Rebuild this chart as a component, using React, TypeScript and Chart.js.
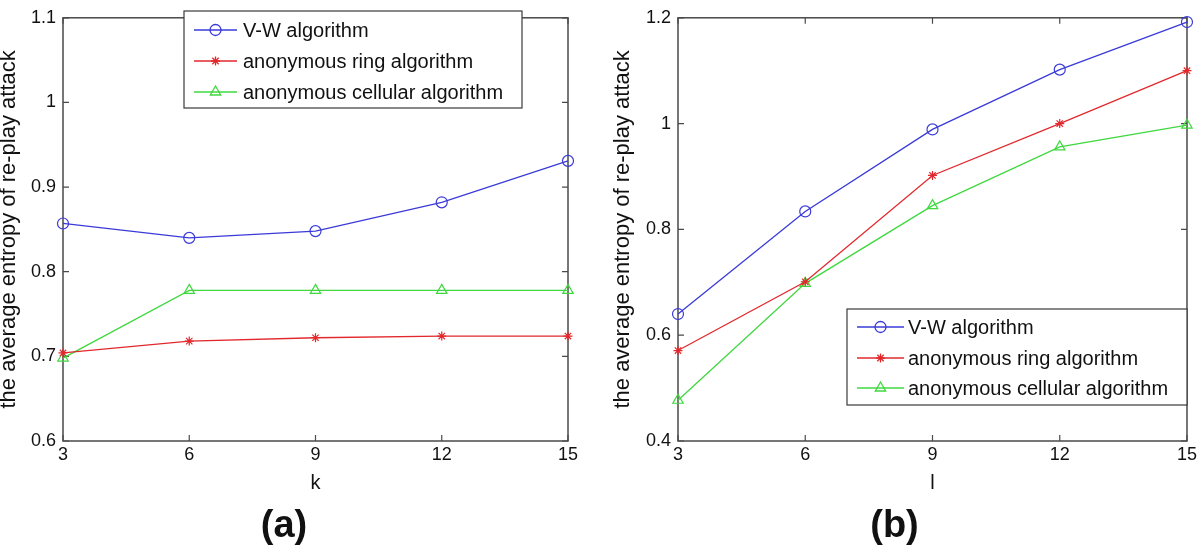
import React, { useEffect, useRef } from 'react';
import { Chart, registerables } from 'chart.js';

Chart.register(...registerables);

// ---------- data ----------
const X_VALUES = [3, 6, 9, 12, 15];
const SERIES_NAMES = ['V-W algorithm', 'anonymous ring algorithm', 'anonymous cellular algorithm'];

const A_VW = [0.857, 0.840, 0.848, 0.882, 0.931];
const A_RING = [0.704, 0.718, 0.722, 0.724, 0.724];
const A_CELL = [0.698, 0.778, 0.778, 0.778, 0.778];

const B_VW = [0.640, 0.834, 0.989, 1.102, 1.192];
const B_RING = [0.571, 0.701, 0.902, 1.000, 1.100];
const B_CELL = [0.477, 0.698, 0.845, 0.956, 0.997];

const A_Y_TICKS = [0.6, 0.7, 0.8, 0.9, 1.0, 1.1];
const B_Y_TICKS = [0.4, 0.6, 0.8, 1.0, 1.2];
const X_TICKS = [3, 6, 9, 12, 15];

const Y_TITLE = 'the average entropy of re-play attack';
const A_X_TITLE = 'k';
const B_X_TITLE = 'l';
const A_CAPTION = '(a)';
const B_CAPTION = '(b)';

// ---------- styles ----------
const BLUE = '#3a3ad8';
const RED = '#e2282c';
const GREEN = '#3fd83f';
const FONT = '"Liberation Sans", Arial, sans-serif';

function drawMarker(ctx: CanvasRenderingContext2D, style: string, x: number, y: number, r: number) {
  ctx.beginPath();
  if (style === 'circle') {
    ctx.arc(x, y, r, 0, Math.PI * 2);
  } else if (style === 'triangle') {
    let a = 0;
    ctx.moveTo(x + Math.sin(a) * r, y - Math.cos(a) * r);
    a += (2 * Math.PI) / 3;
    ctx.lineTo(x + Math.sin(a) * r, y - Math.cos(a) * r);
    a += (2 * Math.PI) / 3;
    ctx.lineTo(x + Math.sin(a) * r, y - Math.cos(a) * r);
    ctx.closePath();
  } else {
    ctx.moveTo(x, y - r); ctx.lineTo(x, y + r);
    ctx.moveTo(x - r, y); ctx.lineTo(x + r, y);
    const d = r * Math.SQRT1_2;
    ctx.moveTo(x - d, y - d); ctx.lineTo(x + d, y + d);
    ctx.moveTo(x - d, y + d); ctx.lineTo(x + d, y - d);
  }
  ctx.stroke();
}

const framePlugin = {
  id: 'matlabFrame',
  beforeDatasetsDraw(chart: any) {
    const { ctx, chartArea: a, scales } = chart;
    ctx.save();
    ctx.strokeStyle = '#4a4a4a';
    ctx.lineWidth = 1.5;
    ctx.strokeRect(a.left, a.top, a.right - a.left, a.bottom - a.top);
    ctx.lineWidth = 1.2;
    const L = 6;
    ctx.beginPath();
    scales.x.ticks.forEach((t: any) => {
      const px = scales.x.getPixelForValue(t.value);
      ctx.moveTo(px, a.bottom); ctx.lineTo(px, a.bottom - L);
      ctx.moveTo(px, a.top); ctx.lineTo(px, a.top + L);
    });
    scales.y.ticks.forEach((t: any) => {
      const py = scales.y.getPixelForValue(t.value);
      ctx.moveTo(a.left, py); ctx.lineTo(a.left + L, py);
      ctx.moveTo(a.right, py); ctx.lineTo(a.right - L, py);
    });
    ctx.stroke();
    ctx.restore();
  },
};

const boxLegendPlugin = {
  id: 'boxLegend',
  afterDatasetsDraw(chart: any, _args: any, opts: any) {
    if (!opts || !opts.width) return;
    const { ctx } = chart;
    ctx.save();
    ctx.fillStyle = '#ffffff';
    ctx.fillRect(opts.left, opts.top, opts.width, opts.height);
    ctx.strokeStyle = '#3a3a3a';
    ctx.lineWidth = 1.2;
    ctx.strokeRect(opts.left, opts.top, opts.width, opts.height);
    chart.data.datasets.forEach((ds: any, i: number) => {
      const y = opts.rows[i];
      ctx.strokeStyle = ds.borderColor;
      ctx.lineWidth = 1.3;
      ctx.beginPath();
      ctx.moveTo(opts.lineX0, y);
      ctx.lineTo(opts.lineX1, y);
      ctx.stroke();
      drawMarker(ctx, ds.pointStyle, (opts.lineX0 + opts.lineX1) / 2, y, ds.pointRadius);
      ctx.fillStyle = '#111111';
      ctx.font = `20px ${FONT}`;
      ctx.textAlign = 'left';
      ctx.textBaseline = 'middle';
      ctx.fillText(ds.label, opts.textX, y + 1);
    });
    ctx.restore();
  },
};

function makeDatasets(vw: number[], ring: number[], cell: number[]) {
  const base = { borderWidth: 1.3, clip: false as any, pointBackgroundColor: 'rgba(0,0,0,0)', pointBorderWidth: 1.2, tension: 0 };
  return [
    { ...base, label: SERIES_NAMES[0], data: X_VALUES.map((x, i) => ({ x, y: vw[i] })), borderColor: BLUE, pointBorderColor: BLUE, pointStyle: 'circle', pointRadius: 5.5 },
    { ...base, label: SERIES_NAMES[1], data: X_VALUES.map((x, i) => ({ x, y: ring[i] })), borderColor: RED, pointBorderColor: RED, pointStyle: 'star', pointRadius: 4.5 },
    { ...base, label: SERIES_NAMES[2], data: X_VALUES.map((x, i) => ({ x, y: cell[i] })), borderColor: GREEN, pointBorderColor: GREEN, pointStyle: 'triangle', pointRadius: 6 },
  ];
}

function makeConfig(p: any): any {
  return {
    type: 'line',
    data: { datasets: makeDatasets(p.vw, p.ring, p.cell) },
    plugins: [framePlugin, boxLegendPlugin],
    options: {
      responsive: false,
      animation: false,
      devicePixelRatio: 1,
      layout: { padding: { left: 0, right: p.padRight, top: 11, bottom: 2 } },
      plugins: {
        legend: { display: false },
        tooltip: { enabled: false },
        title: {
          display: true,
          text: p.caption,
          position: 'bottom',
          color: '#111111',
          font: { family: FONT, size: 38, weight: 'bold', lineHeight: 1 },
          padding: 0,
        },
        boxLegend: p.legend,
      },
      scales: {
        x: {
          type: 'linear',
          min: X_TICKS[0],
          max: X_TICKS[X_TICKS.length - 1],
          afterBuildTicks: (s: any) => { s.ticks = X_TICKS.map((v) => ({ value: v })); },
          afterFit: (s: any) => { s.height = 67; },
          grid: { display: false, drawTicks: false },
          border: { display: false },
          ticks: { color: '#111111', font: { family: FONT, size: 18 }, padding: 3, maxRotation: 0, autoSkip: false, callback: (v: any) => String(v) },
          title: { display: true, text: p.xTitle, color: '#111111', font: { family: FONT, size: 20, lineHeight: 1 }, padding: { top: 0, bottom: 15 } },
        },
        y: {
          type: 'linear',
          min: p.yTicks[0],
          max: p.yTicks[p.yTicks.length - 1],
          afterBuildTicks: (s: any) => { s.ticks = p.yTicks.map((v: number) => ({ value: v })); },
          afterFit: (s: any) => { s.width = p.yWidth; },
          grid: { display: false, drawTicks: false },
          border: { display: false },
          ticks: { color: '#111111', font: { family: FONT, size: 18 }, padding: 7, autoSkip: false, callback: (v: any) => String(Number(Number(v).toFixed(2))) },
          title: { display: true, text: Y_TITLE, color: '#111111', font: { family: FONT, size: 22, lineHeight: 0.85 }, padding: { top: p.yTitlePad, bottom: 0 } },
        },
      },
    },
  };
}

function Panel(props: { left: number; cfg: any }) {
  const ref = useRef<HTMLCanvasElement | null>(null);
  useEffect(() => {
    if (!ref.current) return;
    const chart = new Chart(ref.current, makeConfig(props.cfg));
    return () => chart.destroy();
  }, []);
  return (
    <canvas
      ref={ref}
      width={600}
      height={548}
      style={{ position: 'absolute', left: props.left, top: 0, width: 600, height: 548 }}
    />
  );
}

const PANEL_A = {
  vw: A_VW, ring: A_RING, cell: A_CELL, yTicks: A_Y_TICKS, xTitle: A_X_TITLE, caption: A_CAPTION,
  padRight: 32, yWidth: 63, yTitlePad: 0,
  legend: { left: 184, top: 11, width: 338, height: 97, rows: [30, 61, 92], lineX0: 194, lineX1: 237, textX: 243 },
};

const PANEL_B = {
  vw: B_VW, ring: B_RING, cell: B_CELL, yTicks: B_Y_TICKS, xTitle: B_X_TITLE, caption: B_CAPTION,
  padRight: 11, yWidth: 78, yTitlePad: 14,
  legend: { left: 247, top: 309, width: 340, height: 96, rows: [327, 358, 388], lineX0: 257, lineX1: 304, textX: 308 },
};

export default function App() {
  return (
    <div style={{ position: 'absolute', left: 0, top: 0, width: 1200, height: 548, background: '#ffffff', overflow: 'hidden' }}>
      <Panel left={0} cfg={PANEL_A} />
      <Panel left={600} cfg={PANEL_B} />
    </div>
  );
}
